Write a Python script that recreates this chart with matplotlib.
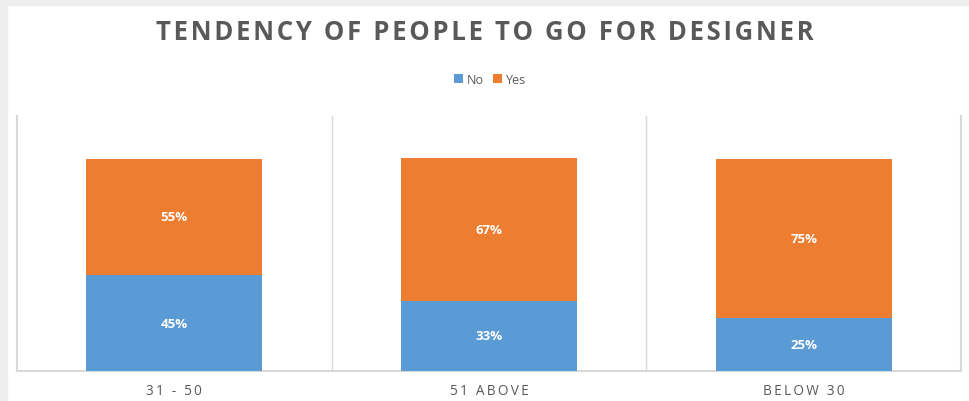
import matplotlib
matplotlib.use("Agg")
import matplotlib.pyplot as plt
from matplotlib.patches import Rectangle

categories = ["31 - 50", "51 ABOVE", "BELOW 30"]
no_vals = [45, 33, 25]
yes_vals = [55, 67, 75]
series_names = ["No", "Yes"]
colors = ["#5B9BD5", "#ED7D31"]
title = "TENDENCY OF PEOPLE TO GO FOR DESIGNER"

FAM = ["Open Sans", "DejaVu Sans"]

def spaced(s, sp):
    return sp.join(list(s))

fig = plt.figure(figsize=(9.69, 4.02), dpi=100)
fig.patch.set_facecolor("white")
fig.add_artist(Rectangle((0, 1 - 6/402), 1, 6/402, transform=fig.transFigure, color="#EEEEEE", zorder=0))
fig.add_artist(Rectangle((0, 0), 7/969, 1, transform=fig.transFigure, color="#EEEEEE", zorder=0))

ax = fig.add_axes([17/969, 1 - 372/402, (961 - 17)/969, (372 - 117)/402])
x = list(range(len(categories)))
tot = [n + y for n, y in zip(no_vals, yes_vals)]
no_frac = [n / t for n, t in zip(no_vals, tot)]
yes_frac = [y / t for y, t in zip(yes_vals, tot)]
w = 0.56
b1 = ax.bar(x, no_frac, width=w, color=colors[0], label=series_names[0], zorder=3)
b2 = ax.bar(x, yes_frac, width=w, bottom=no_frac, color=colors[1], label=series_names[1], zorder=3)

for i in x:
    ax.text(i, no_frac[i] / 2, f"{no_vals[i]}%", ha="center", va="center", color="white",
            fontsize=9.5, fontweight="bold", family=FAM, zorder=4)
    ax.text(i, no_frac[i] + yes_frac[i] / 2, f"{yes_vals[i]}%", ha="center", va="center", color="white",
            fontsize=9.5, fontweight="bold", family=FAM, zorder=4)

ax.set_xlim(-0.5, 2.5)
ax.set_ylim(0, 1.2)
ax.set_yticks([])
ax.set_xticks(x)
ax.set_xticklabels([spaced(c, "\u2009") for c in categories])
for lbl in ax.get_xticklabels():
    lbl.set_fontfamily(FAM)
    lbl.set_fontsize(9.8)
    lbl.set_color("#595959")
ax.tick_params(axis="x", length=0, pad=9)
for xv in [0.5, 1.5]:
    ax.axvline(xv, color="#D9D9D9", lw=1, zorder=1)
ax.spines["top"].set_visible(False)
for s in ["left", "right", "bottom"]:
    ax.spines[s].set_color("#D9D9D9")
    ax.spines[s].set_linewidth(1.5)

fig.text(0.5, 1 - 32/402, spaced(title, "\u200A"), ha="center", va="center",
         fontsize=18.5, fontweight="bold", color="#595959", family=FAM)

leg = fig.legend(handles=[b1, b2], labels=series_names, loc="center", bbox_to_anchor=(490/969, 1 - 80/402),
                 ncol=2, frameon=False, handlelength=0.7, handleheight=0.7,
                 handletextpad=0.3, columnspacing=0.8, prop={"family": FAM, "size": 9})
for t in leg.get_texts():
    t.set_color("#595959")

fig.savefig("out.png", dpi=100)
